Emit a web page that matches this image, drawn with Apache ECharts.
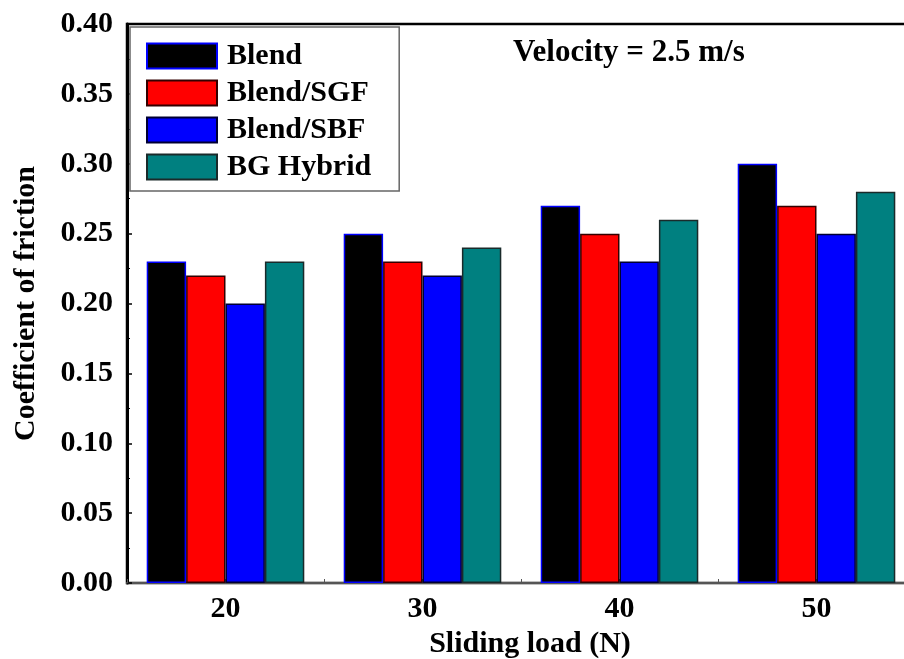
<!DOCTYPE html>
<html>
<head>
<meta charset="utf-8">
<script src="https://cdn.jsdelivr.net/npm/echarts@6/dist/echarts.min.js"></script>
<style>html,body{margin:0;padding:0;background:#fff}#c{width:904px;height:659px}</style>
</head>
<body>
<div id="c"></div>
<script>
const categories = ['20', '30', '40', '50'];
const seriesNames = ['Blend', 'Blend/SGF', 'Blend/SBF', 'BG Hybrid'];
const blend = [0.23, 0.25, 0.27, 0.30];
const blendSGF = [0.22, 0.23, 0.25, 0.27];
const blendSBF = [0.20, 0.22, 0.23, 0.25];
const bgHybrid = [0.23, 0.24, 0.26, 0.28];
const yTicks = { min: 0, max: 0.4, interval: 0.05 };

const font = '"Liberation Serif", "Times New Roman", serif';
const fills = ['#000000', '#ff0000', '#0000ff', '#008080'];
const borders = ['#0000ff', '#330000', '#000033', '#1a2a2a'];
const allData = [blend, blendSGF, blendSBF, bgHybrid];

const chart = echarts.init(document.getElementById('c'), null, { renderer: 'canvas' });
chart.setOption({
  animation: false,
  backgroundColor: '#fff',
  grid: { left: 127, width: 788, top: 24, bottom: 76, outerBoundsMode: 'none', containLabel: false, show: true, borderColor: '#000', borderWidth: 2.5, backgroundColor: 'transparent' },
  legend: {
    orient: 'vertical', left: 130, top: 27,
    padding: [14, 28, 9, 16],
    itemWidth: 70, itemHeight: 25, itemGap: 7,
    icon: 'rect',
    borderColor: '#666', borderWidth: 1.5,
    backgroundColor: '#fff',
    data: seriesNames,
    textStyle: { fontFamily: font, fontWeight: 'bold', fontSize: 30, color: '#000', padding: [0, 0, 0, 5] }
  },
  xAxis: [{
    type: 'category', data: categories, position: 'bottom',
    name: 'Sliding load (N)', nameLocation: 'middle', nameGap: 44,
    nameTextStyle: { fontFamily: font, fontWeight: 'bold', fontSize: 30, color: '#000', padding: [0, 0, 0, 18] },
    axisLine: { lineStyle: { color: '#555', width: 2 } },
    axisTick: { show: true, inside: true, length: 4, lineStyle: { color: '#555' } },
    axisLabel: { fontFamily: font, fontWeight: 'bold', fontSize: 30, color: '#000', margin: 11 },
    splitLine: { show: false }
  }, {
    type: 'category', data: categories, position: 'bottom',
    axisLine: { show: false },
    axisTick: { show: true, inside: true, alignWithLabel: true, length: 4, lineStyle: { color: '#555' } },
    axisLabel: { show: false },
    splitLine: { show: false }
  }],
  yAxis: {
    type: 'value', min: yTicks.min, max: yTicks.max, interval: yTicks.interval,
    name: 'Coefficient of friction', nameLocation: 'middle', nameGap: 86,
    nameTextStyle: { fontFamily: font, fontWeight: 'bold', fontSize: 30, color: '#000' },
    axisLine: { show: true, lineStyle: { color: '#000', width: 3 } },
    axisTick: { show: true, inside: true, length: 5, lineStyle: { color: '#000', width: 1.5 } },
    minorTick: { show: true, splitNumber: 2, length: 3, lineStyle: { color: '#000' } },
    axisLabel: { fontFamily: font, fontWeight: 'bold', fontSize: 30, color: '#000', margin: 14, formatter: v => v.toFixed(2) },
    splitLine: { show: false }
  },
  series: seriesNames.map((n, i) => ({
    name: n, type: 'bar', data: allData[i], xAxisIndex: 0,
    barGap: '0%', barCategoryGap: '20%',
    itemStyle: { color: fills[i], borderColor: borders[i], borderWidth: 1.5 }
  })),
  graphic: [{
    type: 'text', left: 513, top: 37,
    style: { text: 'Velocity = 2.5 m/s', font: 'bold 31px ' + font, fill: '#000' }
  }]
});
</script>
</body>
</html>
